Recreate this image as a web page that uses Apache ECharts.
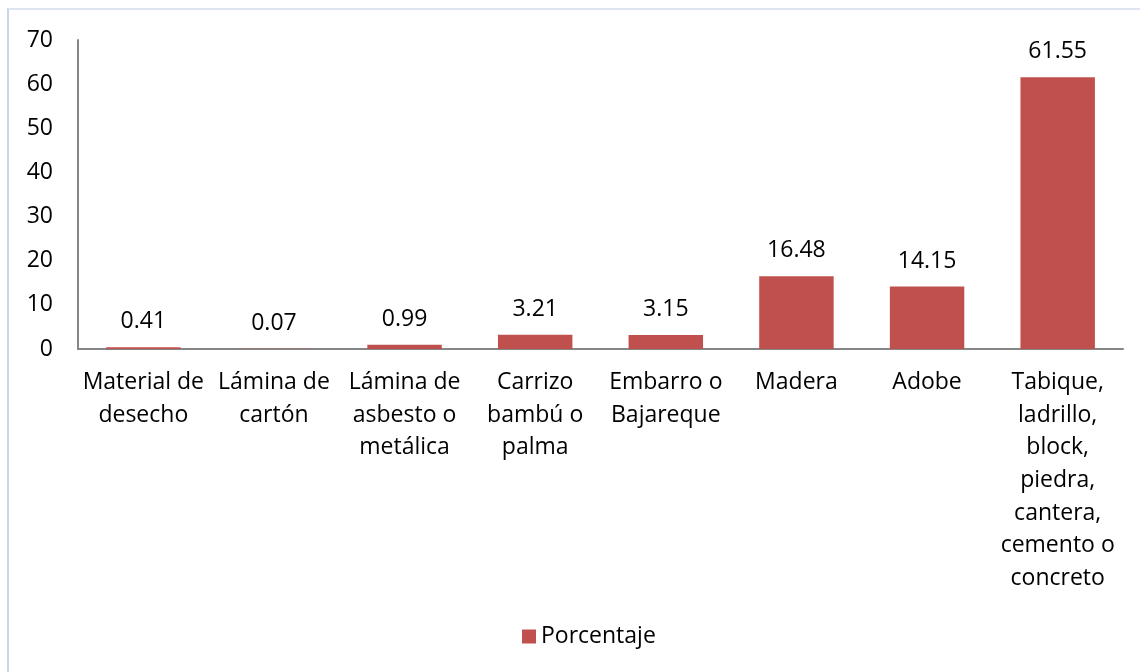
<!DOCTYPE html>
<html>
<head>
<meta charset="utf-8">
<script src="https://cdn.jsdelivr.net/npm/echarts@6/dist/echarts.min.js"></script>
<style>
  html, body { margin: 0; padding: 0; background: #fff; }
  #frame {
    position: absolute; left: 7px; top: 8px; width: 1133px; height: 664px;
    border-left: 2px solid #c9d6e8; border-top: 2px solid #dde5f0;
  }
  #chart { position: absolute; left: 0; top: 0; width: 1140px; height: 672px; }
</style>
</head>
<body>
<div id="frame"></div>
<div id="chart"></div>
<script>
// categorias y valores
const categorias = [
  'Material de\ndesecho',
  'Lámina de\ncartón',
  'Lámina de\nasbesto o\nmetálica',
  'Carrizo\nbambú o\npalma',
  'Embarro o\nBajareque',
  'Madera',
  'Adobe',
  'Tabique,\nladrillo,\nblock,\npiedra,\ncantera,\ncemento o\nconcreto'
];
const porcentaje = [0.41, 0.07, 0.99, 3.21, 3.15, 16.48, 14.15, 61.55];
const ticksY = { min: 0, max: 70, interval: 10 };

const fuente = "'Open Sans', 'Noto Sans', sans-serif";

const getOption = () => {
  return {
    backgroundColor: 'transparent',
    textStyle: { fontFamily: fuente },
    animation: false,
    grid: { left: 78, right: 17, top: 40, bottom: 323 },
    legend: {
      data: ['Porcentaje'],
      bottom: 19,
      left: 517,
      itemWidth: 14,
      itemHeight: 14,
      itemGap: 6,
      icon: 'rect',
      textStyle: { fontSize: 23, color: '#000', fontFamily: fuente }
    },
    xAxis: {
      type: 'category',
      data: categorias,
      axisLine: { lineStyle: { color: '#868686', width: 2 } },
      axisTick: { show: false },
      axisLabel: {
        interval: 0,
        color: '#000',
        fontSize: 23,
        lineHeight: 32.7,
        margin: 17,
        fontFamily: fuente
      }
    },
    yAxis: {
      type: 'value',
      min: ticksY.min,
      max: ticksY.max,
      interval: ticksY.interval,
      splitLine: { show: false },
      axisLine: { show: true, lineStyle: { color: '#868686', width: 2 } },
      axisTick: { show: false },
      axisLabel: { color: '#000', fontSize: 23, margin: 25, fontFamily: fuente }
    },
    series: [
      {
        name: 'Porcentaje',
        type: 'bar',
        data: porcentaje,
        barWidth: '57%',
        itemStyle: { color: '#c0504d' },
        label: {
          show: true,
          position: 'top',
          distance: 14,
          color: '#000',
          fontSize: 23,
          fontFamily: fuente
        }
      }
    ]
  };
};

const chart = echarts.init(document.getElementById('chart'));
chart.setOption(getOption());
</script>
</body>
</html>
